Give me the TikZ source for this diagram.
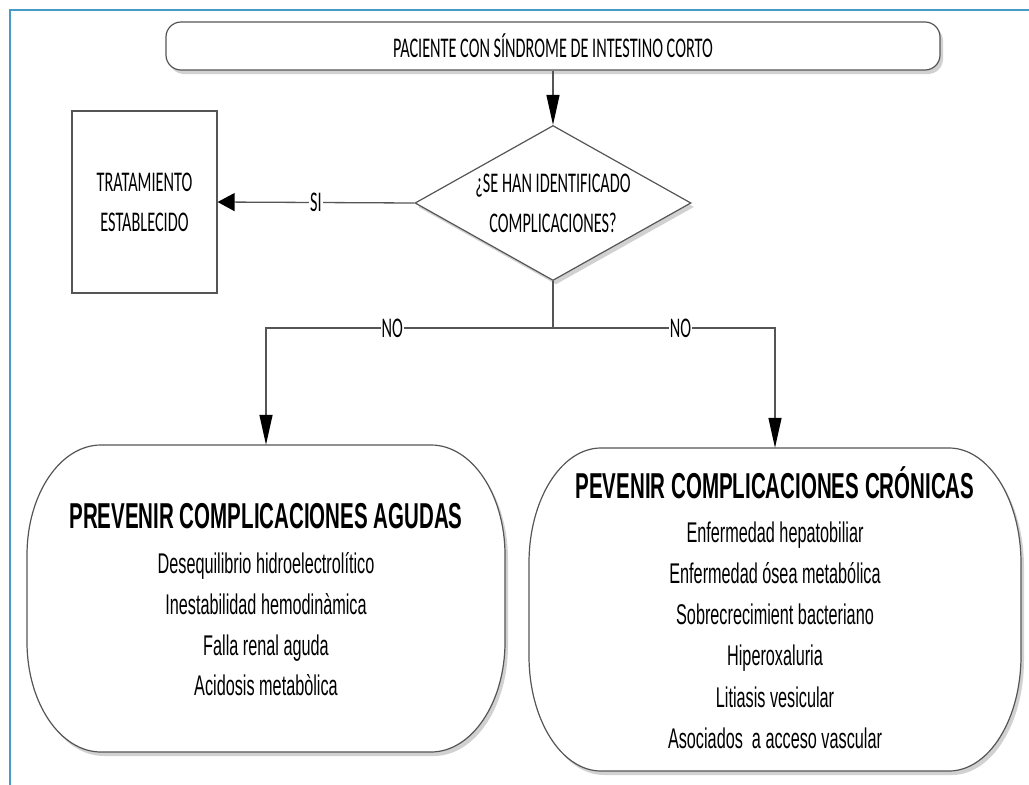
\documentclass[tikz,border=0pt]{standalone}
\usepackage{fontspec}
\setmainfont[FakeStretch=0.57]{Liberation Sans}
\newfontfamily\calib[FakeStretch=0.57]{Carlito}
\usetikzlibrary{shapes.geometric,arrows.meta,shadows}
\definecolor{frameblue}{RGB}{70,155,200}
\definecolor{edge}{RGB}{85,85,85}
\begin{document}
\begin{tikzpicture}[x=1pt,y=-1pt,
  shapeline/.style={draw=edge, line width=1.2pt},
  shd/.style={drop shadow={shadow xshift=3pt, shadow yshift=-4pt, fill=black!18, opacity=1}},
  cal/.style={font=\calib\fontsize{28.5}{40}\selectfont, align=center},
  conn/.style={draw=edge, line width=1.3pt},
  varrow/.style={conn, -{Triangle[length=30pt,width=13pt,color=black]}},
  harrow/.style={conn, -{Triangle[length=17pt,width=18pt,color=black]}},
  lbl/.style={cal, fill=white, inner sep=1pt},
  ttl/.style={font=\fontsize{36}{41}\selectfont\bfseries, anchor=base, inner sep=0pt},
  itm/.style={font=\fontsize{28.5}{41}\selectfont, anchor=base, inner sep=0pt}
]
\useasboundingbox (0,0) rectangle (1029,785);
% frame
\draw[frameblue, line width=2pt] (9.5,785) -- (9.5,10) -- (1029,10);

% big rounded boxes
\draw[shapeline, fill=white, shd]
  (101,445) -- (431,445) .. controls (471.8,445) and (505,494.3) .. (505,555)
  -- (505,642) .. controls (505,702.7) and (471.8,752) .. (431,752)
  -- (101,752) .. controls (60.2,752) and (27,702.7) .. (27,642)
  -- (27,555) .. controls (27,494.3) and (60.2,445) .. (101,445) -- cycle;
\draw[shapeline, fill=white, shd]
  (601,448) -- (949,448) .. controls (988.7,448) and (1021,499.5) .. (1021,563)
  -- (1021,656) .. controls (1021,719.5) and (988.7,771) .. (949,771)
  -- (601,771) .. controls (561.3,771) and (529,719.5) .. (529,656)
  -- (529,563) .. controls (529,499.5) and (561.3,448) .. (601,448) -- cycle;
\node[minimum width=478pt, minimum height=307pt, inner sep=0pt] (agudas) at (266,598.5) {};
\node[minimum width=492pt, minimum height=323pt, inner sep=0pt] (cronicas) at (775,609.5) {};

% top nodes
\node[shapeline, shd, fill=white, rounded corners=15pt, minimum width=774pt,
      minimum height=48pt, cal] (term) at (553,46) {PACIENTE CON SÍNDROME DE INTESTINO CORTO};
\node[shapeline, shd, fill=white, diamond, aspect=1.78, minimum width=276pt,
      minimum height=155pt, inner sep=0pt, cal] (dec) at (553,203) {¿SE HAN IDENTIFICADO\\COMPLICACIONES?};
\node[shapeline, fill=white, minimum width=145pt, minimum height=182pt, cal]
      (trat) at (144.5,202) {TRATAMIENTO\\ESTABLECIDO};

% texts in big boxes
\node[ttl] (agt) at (266,528) {PREVENIR COMPLICACIONES AGUDAS};
\node[itm] (ag1) at (266,573) {Desequilibrio hidroelectrolítico};
\node[itm] (ag2) at (266,614) {Inestabilidad hemodinàmica};
\node[itm] (ag3) at (266,655) {Falla renal aguda};
\node[itm] (ag4) at (266,695) {Acidosis metabòlica};

\node[ttl] (crt) at (775,498) {PEVENIR COMPLICACIONES CRÓNICAS};
\node[itm] (cr1) at (775,542) {Enfermedad hepatobiliar};
\node[itm] (cr2) at (775,583) {Enfermedad ósea metabólica};
\node[itm] (cr3) at (775,624) {Sobrecrecimient bacteriano};
\node[itm] (cr4) at (775,665) {Hiperoxaluria};
\node[itm] (cr5) at (775,707) {Litiasis vesicular};
\node[itm] (cr6) at (775,748) {Asociados\ \ a acceso vascular};

% connectors
\draw[varrow] (term.south) -- (dec.north);
\draw[harrow] (dec.west) -- node[lbl] (si) {SI} (trat.east);
\coordinate (split) at (553,328);
\draw[conn] (dec.south) -- (split);
\draw[varrow] (split) -| node[lbl, pos=0.28] (no1) {NO} (agudas.north);
\draw[varrow] (split) -| node[lbl, pos=0.287] (no2) {NO} (cronicas.north);
\end{tikzpicture}
\end{document}
